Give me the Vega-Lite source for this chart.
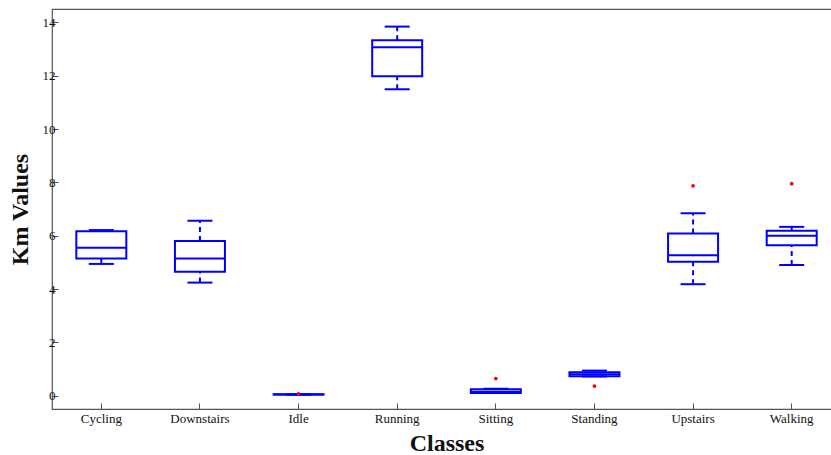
{
  "$schema": "https://vega.github.io/schema/vega-lite/v6.json",
  "autosize": "none",
  "width": 789,
  "height": 400,
  "padding": {"left": 52, "top": 9, "right": -10, "bottom": 46},
  "background": "white",
  "config": {
    "view": {"stroke": "#555555", "strokeWidth": 1.2},
    "font": "Liberation Serif",
    "axis": {"labelFont": "Liberation Serif", "titleFont": "Liberation Serif", "labelColor": "#111", "titleColor": "#111", "domain": false, "grid": false, "tickColor": "#555555", "tickSize": -6, "labelFontSize": 13, "zindex": 1}
  },
  "datasets": {
    "boxes": [
      {"cls": "Cycling", "lower": 4.94, "q1": 5.14, "median": 5.55, "q3": 6.17, "upper": 6.21},
      {"cls": "Downstairs", "lower": 4.24, "q1": 4.65, "median": 5.14, "q3": 5.8, "upper": 6.56},
      {"cls": "Idle", "lower": 0.04, "q1": 0.04, "median": 0.04, "q3": 0.05, "upper": 0.05},
      {"cls": "Running", "lower": 11.49, "q1": 11.98, "median": 13.07, "q3": 13.33, "upper": 13.84},
      {"cls": "Sitting", "lower": 0.1, "q1": 0.1, "median": 0.15, "q3": 0.24, "upper": 0.26},
      {"cls": "Standing", "lower": 0.72, "q1": 0.73, "median": 0.8, "q3": 0.88, "upper": 0.94},
      {"cls": "Upstairs", "lower": 4.18, "q1": 5.02, "median": 5.27, "q3": 6.08, "upper": 6.84},
      {"cls": "Walking", "lower": 4.9, "q1": 5.64, "median": 6.0, "q3": 6.18, "upper": 6.33}
    ],
    "outliers": [
      {"cls": "Idle", "value": 0.07},
      {"cls": "Sitting", "value": 0.64},
      {"cls": "Standing", "value": 0.36},
      {"cls": "Upstairs", "value": 7.87},
      {"cls": "Walking", "value": 7.95}
    ]
  },
  "layer": [
    {
      "data": {"name": "boxes"},
      "mark": {"type": "rule", "color": "#0000FF", "strokeWidth": 2, "strokeDash": [5, 4]},
      "encoding": {
        "x": {"field": "cls", "type": "nominal", "sort": null, "scale": {"paddingInner": 0, "paddingOuter": 0},
              "axis": {"orient": "bottom", "labelAngle": 0, "title": "Classes", "titleFontSize": 24, "titleFontWeight": "bold", "titlePadding": 6, "labelPadding": 9}},
        "y": {"field": "q3", "type": "quantitative", "scale": {"domain": [-0.5, 14.5], "nice": false, "zero": false},
              "axis": {"values": [0, 2, 4, 6, 8, 10, 12, 14], "title": "Km Values", "titleFontSize": 24, "titleFontWeight": "bold", "titlePadding": 10, "labelPadding": 3}},
        "y2": {"field": "upper"}
      }
    },
    {
      "data": {"name": "boxes"},
      "mark": {"type": "rule", "color": "#0000FF", "strokeWidth": 2, "strokeDash": [5, 4]},
      "encoding": {
        "x": {"field": "cls", "type": "nominal", "sort": null},
        "y": {"field": "lower", "type": "quantitative"},
        "y2": {"field": "q1"}
      }
    },
    {
      "data": {"name": "boxes"},
      "mark": {"type": "bar", "fill": "white", "stroke": "#0000FF", "strokeWidth": 2, "size": 50},
      "encoding": {
        "x": {"field": "cls", "type": "nominal", "sort": null},
        "y": {"field": "q1", "type": "quantitative"},
        "y2": {"field": "q3"}
      }
    },
    {
      "data": {"name": "boxes"},
      "mark": {"type": "tick", "color": "#0000FF", "size": 50, "thickness": 2, "opacity": 1},
      "encoding": {
        "x": {"field": "cls", "type": "nominal", "sort": null},
        "y": {"field": "median", "type": "quantitative"}
      }
    },
    {
      "data": {"name": "boxes"},
      "mark": {"type": "tick", "color": "#0000FF", "size": 25, "thickness": 2, "opacity": 1},
      "encoding": {
        "x": {"field": "cls", "type": "nominal", "sort": null},
        "y": {"field": "upper", "type": "quantitative"}
      }
    },
    {
      "data": {"name": "boxes"},
      "mark": {"type": "tick", "color": "#0000FF", "size": 25, "thickness": 2, "opacity": 1},
      "encoding": {
        "x": {"field": "cls", "type": "nominal", "sort": null},
        "y": {"field": "lower", "type": "quantitative"}
      }
    },
    {
      "data": {"name": "outliers"},
      "mark": {"type": "point", "shape": "circle", "filled": true, "color": "#FF0000", "size": 14, "opacity": 1},
      "encoding": {
        "x": {"field": "cls", "type": "nominal", "sort": null},
        "y": {"field": "value", "type": "quantitative"}
      }
    }
  ]
}
